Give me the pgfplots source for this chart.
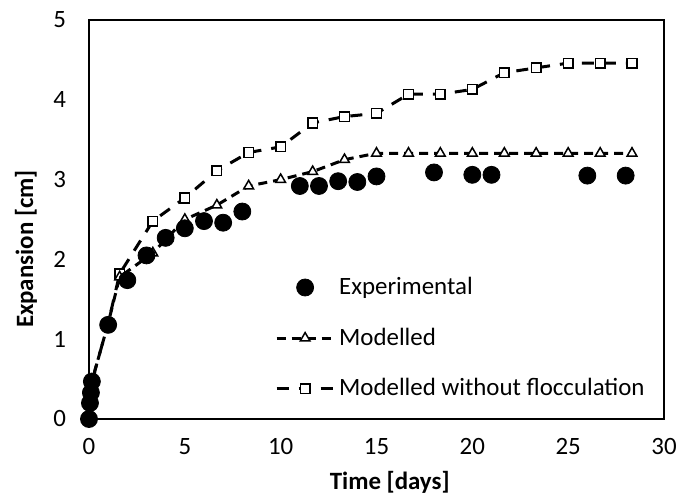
\documentclass[border=0pt]{standalone}
\usepackage{fontspec}
\setmainfont{Carlito}
\usepackage{pgfplots}
\pgfplotsset{compat=1.18}
\begin{document}
\begin{tikzpicture}
\path[use as bounding box] (-44.5bp,-37.5bp) rectangle (295bp,209.5bp);
\begin{axis}[
  at={(0,0)}, anchor=south west,
  width=287.5bp, height=199.5bp, scale only axis,
  xmin=0, xmax=30, ymin=0, ymax=5,
  xtick={0,5,...,30}, ytick={0,1,...,5},
  major tick length=0pt,
  axis line style={line width=0.75bp},
  /pgf/number format/assume math mode=true,
  tick label style={font=\fontsize{12.5}{15}\selectfont},
  xticklabel style={yshift=-6bp},
  yticklabel style={xshift=-8bp},
  xlabel={\bfseries Time [days]}, ylabel={\bfseries Expansion [cm]},
  label style={font=\fontsize{12.5}{15}\selectfont},
  xlabel style={at={(axis description cs:0.523,-0.16)}, anchor=center},
  ylabel style={at={(axis description cs:-0.1096,0.426)}, anchor=center},
  legend image code/.code={\draw[mark repeat=2,mark phase=2,#1] plot coordinates {(0bp,0bp) (14.25bp,0bp) (28.5bp,0bp)};},
  legend style={draw=none, fill=none, inner sep=0pt, font=\fontsize{12.5}{15}\selectfont,
    at={(axis description cs:0.323,0.366)}, anchor=north west, row sep=11.2bp},
  legend cell align=left,
  modelstyle/.style={black, line width=1.5bp, dash pattern=on 4.5bp off 3bp,
    mark=triangle*, mark size=2.8bp, mark options={solid, fill=white, line width=0.75bp}},
  unflocstyle/.style={black, line width=1.5bp, dash pattern=on 6bp off 5bp,
    mark=square*, mark size=2.4bp, mark options={solid, fill=white, line width=0.75bp}},
  expstyle/.style={only marks, mark=*, mark size=4.25bp, black, mark options={fill=black}},
]
% Modelled without flocculation
\addplot[unflocstyle, mark indices={4,5,6,7,8,9,10,11,12,13,14,15,16,17,18,19,20}, forget plot] coordinates {
(0,0) (0.3,0.6) (1,1.2) (1.6,1.82) (3.33,2.48) (5,2.77) (6.67,3.11) (8.33,3.34) (10,3.41)
(11.67,3.71) (13.33,3.79) (15,3.83) (16.67,4.07) (18.33,4.07) (20,4.13) (21.67,4.34)
(23.33,4.40) (25,4.46) (26.67,4.46) (28.33,4.46)
};
% Modelled
\addplot[modelstyle, mark indices={4,5,6,7,8,9,10,11,12,13,14,15,16,17,18,19,20}, forget plot] coordinates {
(0,0) (0.3,0.6) (1,1.2) (1.6,1.78) (3.33,2.08) (5,2.5) (6.67,2.68) (8.33,2.92) (10,3.0)
(11.67,3.1) (13.33,3.25) (15,3.33) (16.67,3.33) (18.33,3.33) (20,3.33) (21.67,3.33)
(23.33,3.33) (25,3.33) (26.67,3.33) (28.33,3.33)
};
% Experimental
\addplot[expstyle, forget plot] coordinates {
(0,0) (0.05,0.2) (0.1,0.33) (0.15,0.47) (1,1.18) (2,1.74) (3,2.05) (4,2.27) (5,2.39)
(6,2.48) (7,2.46) (8,2.6) (11,2.92) (12,2.92) (13,2.98) (14,2.97) (15,3.04) (18,3.09)
(20,3.06) (21,3.06) (26,3.05) (28,3.05)
};
\addlegendimage{expstyle}
\addlegendentry{Experimental}
\addlegendimage{modelstyle}
\addlegendentry{Modelled}
\addlegendimage{unflocstyle}
\addlegendentry{Modelled without flocculation}
\end{axis}
\end{tikzpicture}
\end{document}
